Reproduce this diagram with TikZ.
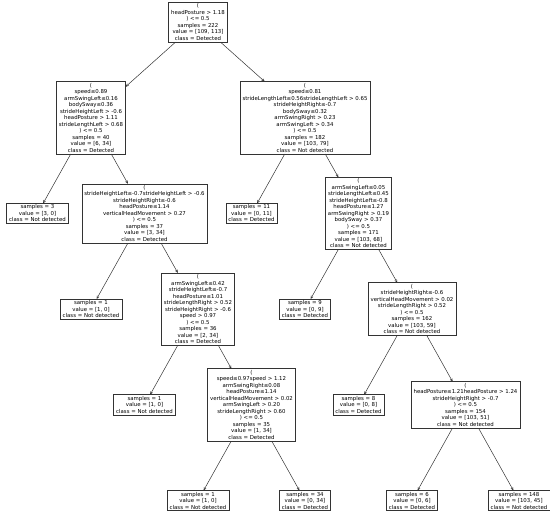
\documentclass[tikz,border=0pt]{standalone}
\usepackage{fontspec}
\setmainfont{DejaVu Sans}
\usepackage{tikz}
\usetikzlibrary{arrows.meta}
\definecolor{cLine}{HTML}{333333}
\tikzset{
  >={To[length=3pt,width=2.6pt]},
  tbox/.style={draw=cLine,fill=white,align=center,inner xsep=2.5pt,inner ysep=1.5pt,
               font=\fontsize{5.4}{6.5}\selectfont,line width=0.5pt},
  tleaf/.style={tbox},
  tar/.style={->,cLine,line width=0.5pt},
}

\begin{document}
\begin{tikzpicture}[x=1pt,y=-1pt]
    \useasboundingbox (0,0) rectangle (550,516);
    % depth 0 and 1
    \node[tbox] (n) at (198,22) {(\\headPosture > 1.18\\) <= 0.5\\samples = 222\\value = [109, 113]\\class = Detected};
    \node[tbox] (nl) at (91,117.7) {(\\speed≤0.89\\armSwingLeft≤0.16\\bodySway≤0.36\\strideHeightLeft > -0.6\\headPosture > 1.11\\strideLengthLeft > 0.68\\) <= 0.5\\samples = 40\\value = [6, 34]\\class = Detected};
    \node[tbox] (nr) at (305,117.7) {(\\speed≤0.81\\strideLengthLeft≤0.56strideLengthLeft > 0.65\\strideHeightRight≤-0.7\\bodySway≤0.32\\armSwingRight > 0.23\\armSwingLeft > 0.34\\) <= 0.5\\samples = 182\\value = [103, 79]\\class = Not detected};
    % depth 2
    \node[tleaf] (nll) at (37.5,213.4) {samples = 3\\value = [3, 0]\\class = Not detected};
    \node[tbox] (nlr) at (144.5,213.4) {(\\strideHeightLeft≤-0.7strideHeightLeft > -0.6\\strideHeightRight≤-0.6\\headPosture≤1.14\\verticalHeadMovement > 0.27\\) <= 0.5\\samples = 37\\value = [3, 34]\\class = Detected};
    \node[tleaf] (nrl) at (251.5,213.4) {samples = 11\\value = [0, 11]\\class = Detected};
    \node[tbox] (nrr) at (358.5,213.4) {(\\armSwingLeft≤0.05\\strideLengthLeft≤0.45\\strideHeightLeft≤-0.8\\headPosture≤1.27\\armSwingRight > 0.19\\bodySway > 0.37\\) <= 0.5\\samples = 171\\value = [103, 68]\\class = Not detected};
    % depth 3
    \node[tleaf] (nlrl) at (91,309) {samples = 1\\value = [1, 0]\\class = Not detected};
    \node[tbox] (nlrr) at (198,309) {(\\armSwingLeft≤0.42\\strideHeightLeft≤-0.7\\headPosture≤1.01\\strideLengthRight > 0.52\\strideHeightRight > -0.6\\speed > 0.97\\) <= 0.5\\samples = 36\\value = [2, 34]\\class = Detected};
    \node[tleaf] (nrrl) at (305,309) {samples = 9\\value = [0, 9]\\class = Detected};
    \node[tbox] (nrrr) at (412,309) {(\\strideHeightRight≤-0.6\\verticalHeadMovement > 0.02\\strideLengthRight > 0.52\\) <= 0.5\\samples = 162\\value = [103, 59]\\class = Not detected};
    % depth 4
    \node[tleaf] (nlrrl) at (144.5,404.8) {samples = 1\\value = [1, 0]\\class = Not detected};
    \node[tbox] (nlrrr) at (251.5,404.8) {(\\speed≤0.97speed > 1.12\\armSwingRight≤0.08\\headPosture≤1.14\\verticalHeadMovement > 0.02\\armSwingLeft > 0.20\\strideLengthRight > 0.60\\) <= 0.5\\samples = 35\\value = [1, 34]\\class = Detected};
    \node[tleaf] (nrrrl) at (358.5,404.8) {samples = 8\\value = [0, 8]\\class = Detected};
    \node[tbox] (nrrrr) at (465.5,404.8) {(\\headPosture≤1.21headPosture > 1.24\\strideHeightRight > -0.7\\) <= 0.5\\samples = 154\\value = [103, 51]\\class = Not detected};
    % depth 5
    \node[tleaf] (nlrrrl) at (198,500.5) {samples = 1\\value = [1, 0]\\class = Not detected};
    \node[tleaf] (nlrrrr) at (305,500.5) {samples = 34\\value = [0, 34]\\class = Detected};
    \node[tleaf] (nrrrrl) at (412,500.5) {samples = 6\\value = [0, 6]\\class = Detected};
    \node[tleaf] (nrrrrr) at (519,500.5) {samples = 148\\value = [103, 45]\\class = Not detected};
    % edges
    \draw[tar] (n) -- (nl);
    \draw[tar] (n) -- (nr);
    \draw[tar] (nl) -- (nll);
    \draw[tar] (nl) -- (nlr);
    \draw[tar] (nr) -- (nrl);
    \draw[tar] (nr) -- (nrr);
    \draw[tar] (nlr) -- (nlrl);
    \draw[tar] (nlr) -- (nlrr);
    \draw[tar] (nrr) -- (nrrl);
    \draw[tar] (nrr) -- (nrrr);
    \draw[tar] (nlrr) -- (nlrrl);
    \draw[tar] (nlrr) -- (nlrrr);
    \draw[tar] (nrrr) -- (nrrrl);
    \draw[tar] (nrrr) -- (nrrrr);
    \draw[tar] (nlrrr) -- (nlrrrl);
    \draw[tar] (nlrrr) -- (nlrrrr);
    \draw[tar] (nrrrr) -- (nrrrrl);
    \draw[tar] (nrrrr) -- (nrrrrr);
\end{tikzpicture}
\end{document}
